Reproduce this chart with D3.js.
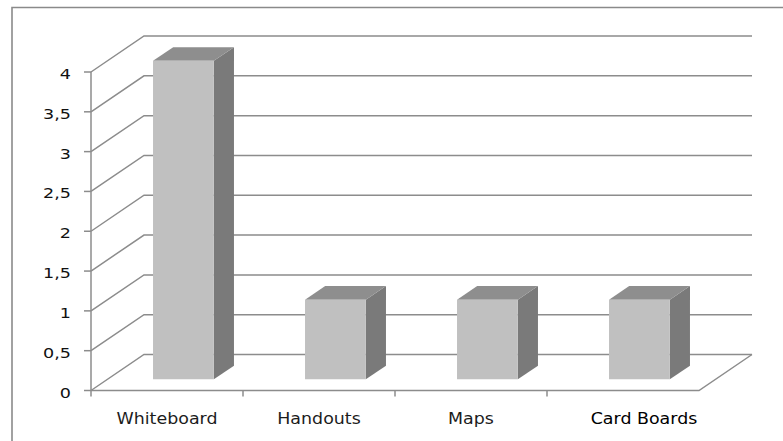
<!DOCTYPE html>
<html>
<head>
<meta charset="utf-8">
<script src="https://cdn.jsdelivr.net/npm/d3@7"></script>
<style>
  html, body { margin: 0; padding: 0; background: #ffffff; }
  svg { display: block; }
</style>
</head>
<body>
<div id="chart"></div>
<script>
// ---- data ----
const categories = ["Whiteboard", "Handouts", "Maps", "Card Boards"];
const values = [4, 1, 1, 1];
const yTicks = [0, 0.5, 1, 1.5, 2, 2.5, 3, 3.5, 4];
const yTickLabels = ["0", "0,5", "1", "1,5", "2", "2,5", "3", "3,5", "4"];

// ---- layout / style ----
const W = 783, H = 441;
const depthDX = 53, depthDY = -36;   // projection of full floor depth
const barZ0 = 0.31, barZ1 = 0.69;    // bar depth within floor
const gridColor = "#8c8c8c";
const labelShift = [0, 0, 0, 21];

const svg = d3.select("#chart").append("svg")
  .attr("width", W).attr("height", H);

const x = d3.scaleBand().domain(categories).range([91, 699])
  .paddingInner(0.6).paddingOuter(0.3);
const y = d3.scaleLinear().domain([0, 4]).range([390.5, 72]);

const P = (px, v, z) => [px + depthDX * z, y(v) + depthDY * z];

// outer border (only top/left visible)
svg.append("path")
  .attr("d", `M12,${H + 2} V7.5 H${W + 2}`)
  .attr("fill", "none").attr("stroke", "#8a8a8a").attr("stroke-width", 1.6);

const x0 = x.range()[0], x1 = x.range()[1];
const grid = svg.append("g").attr("fill", "none")
  .attr("stroke", gridColor).attr("stroke-width", 1.5);

// back wall gridlines + left wall diagonals
yTicks.forEach(t => {
  const a = P(x0, t, 0), b = P(x0, t, 1), c = P(x1, t, 1);
  grid.append("path").attr("d", `M${a[0]},${a[1]} L${b[0]},${b[1]} L${c[0]},${c[1]}`);
});
// floor front edge and right diagonal
{
  const a = P(x0, 0, 0), b = P(x1, 0, 0), c = P(x1, 0, 1);
  grid.append("path").attr("d", `M${a[0]},${a[1]} L${b[0]},${b[1]} L${c[0]},${c[1]}`);
}
// y axis line
grid.append("line").attr("x1", x0).attr("x2", x0)
  .attr("y1", y(4)).attr("y2", y(0));
// y ticks
yTicks.forEach(t => {
  grid.append("line").attr("x1", x0 - 7).attr("x2", x0)
    .attr("y1", y(t)).attr("y2", y(t));
});
// x ticks
const step = x.step();
d3.range(categories.length).forEach(i => {
  const px = x0 + i * step;
  grid.append("line").attr("x1", px).attr("x2", px)
    .attr("y1", y(0)).attr("y2", y(0) + 6);
});

// bars
const bars = svg.append("g");
categories.forEach((c, i) => {
  const v = values[i];
  const bx0 = x(c), bx1 = x(c) + x.bandwidth();
  const f00 = P(bx0, 0, barZ0), f10 = P(bx1, 0, barZ0);
  const f0v = P(bx0, v, barZ0), f1v = P(bx1, v, barZ0);
  const b0v = P(bx0, v, barZ1), b1v = P(bx1, v, barZ1), b10 = P(bx1, 0, barZ1);
  const poly = pts => "M" + pts.map(p => p.join(",")).join("L") + "Z";
  bars.append("path").attr("d", poly([f10, f1v, b1v, b10])).attr("fill", "#7a7a7a");
  bars.append("path").attr("d", poly([f0v, f1v, b1v, b0v])).attr("fill", "#8e8e8e");
  bars.append("path").attr("d", poly([f00, f10, f1v, f0v])).attr("fill", "#c0c0c0");
});

// y tick labels
const yl = svg.append("g").attr("font-family", "DejaVu Sans")
  .attr("font-size", 13.5).attr("fill", "#111111");
yTicks.forEach((t, i) => {
  yl.append("g").attr("transform", `translate(71,${y(t) + 7}) scale(1.3,1)`)
    .append("text").attr("text-anchor", "end").text(yTickLabels[i]);
});

// category labels
const xl = svg.append("g").attr("font-family", "DejaVu Sans")
  .attr("font-size", 16);
categories.forEach((c, i) => {
  xl.append("g")
    .attr("transform", `translate(${x0 + (i + 0.5) * step + labelShift[i]},424) scale(1.09,1)`)
    .append("text").attr("text-anchor", "middle")
    .attr("fill", i === 3 ? "#000000" : "#1c1c1c")
    .text(c);
});
</script>
</body>
</html>
